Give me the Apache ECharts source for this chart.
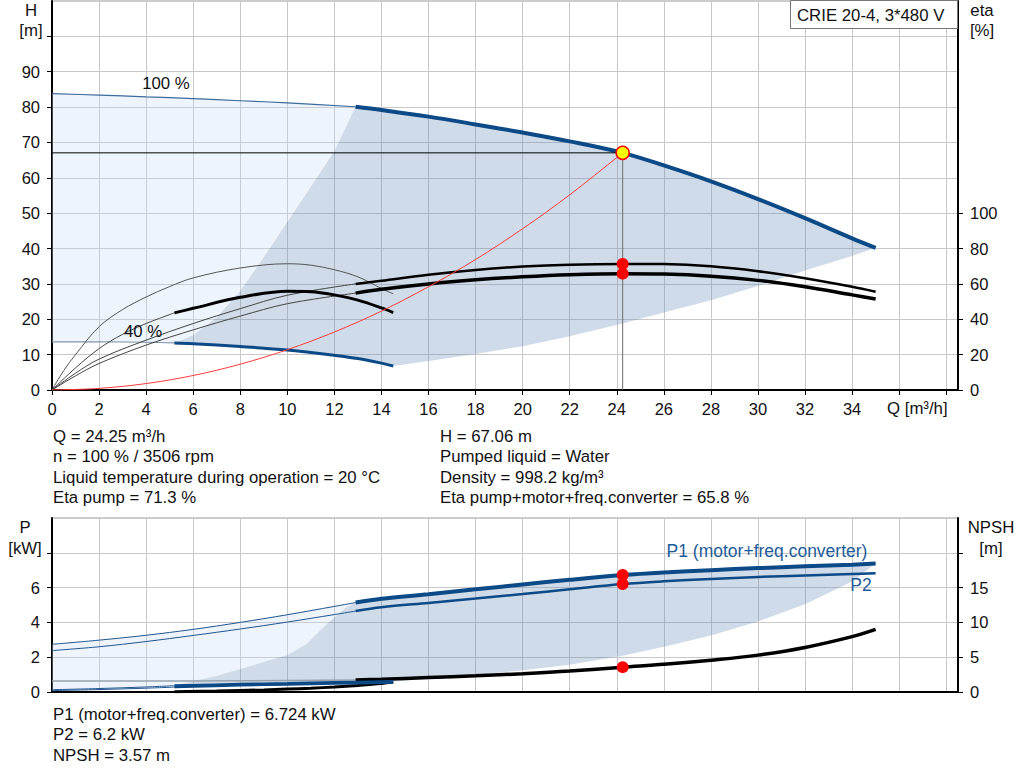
<!DOCTYPE html>
<html><head><meta charset="utf-8">
<script src="https://cdn.jsdelivr.net/npm/echarts@6/dist/echarts.min.js"></script>
<style>html,body{margin:0;padding:0;background:#fff}#c{width:1024px;height:781px}</style>
</head><body><div id="c"></div>
<script>
const FONT = '"Liberation Sans", Arial, sans-serif';

// ---- axis ticks / labels ----
const qTicks = [0,2,4,6,8,10,12,14,16,18,20,22,24,26,28,30,32,34,36,38];
const qLabels = [0,2,4,6,8,10,12,14,16,18,20,22,24,26,28,30,32,34];
const hTicks = [0,10,20,30,40,50,60,70,80,90,100];
const hLabels = [0,10,20,30,40,50,60,70,80,90];
const etaTicks = [0,20,40,60,80,100];
const pTicks = [0,2,4,6,8];
const pLabels = [0,2,4,6];
const npshTicks = [0,5,10,15,20];
const npshLabels = [0,5,10,15];

// ---- duty point ----
const dutyQ = 24.25, dutyH = 67.06;
const etaDots = [[24.25,71.3],[24.25,65.8]];
const powerDots = [[24.25,6.724],[24.25,6.2]];
const npshDots = [[24.25,3.57]];
const qBreak = 12.9, q40a = 5.2;

// ---- head curves (Q m3/h, H m) ----
const H100 = [[0,83.8],[2,83.4],[4,82.9],[6,82.4],[8,81.8],[10,81.2],[12.9,80.1],[14,79.2],[16,77.3],[18,75.1],[20,72.8],[22,70.3],[24.25,67.06],[26,63.5],[28,59.0],[30,54.0],[32,48.6],[34,42.9],[35,40.2]];
const H40 = [[0,13.6],[2,13.6],[4,13.5],[5.2,13.3],[6,13.1],[8,12.3],[10,11.3],[12,9.8],[13,8.9],[14,7.6],[14.5,6.8]];
const SYS = [[0,0],[2,0.46],[4,1.82],[6,4.1],[8,7.3],[10,11.4],[12,16.4],[14,22.3],[16,29.2],[18,36.9],[20,45.6],[22,55.2],[24.25,67.06]];
const LB_H = [[5.2,13.3],[6,15.5],[7,20.5],[8,28],[9,37.5],[10,47.5],[11,57.5],[12,67.5],[12.9,80.1]];
const LOW_H = [[14.5,6.8],[16,8.2],[18,10.2],[20,12.4],[22,15.2],[24.25,18.8],[26,21.9],[28,25.4],[30,29.4],[32,33.8],[34,37.9],[35,40.2]];

// ---- efficiency curves (Q, eta %) ----
const EP100 = [[0,0],[1,9.5],[2,17.5],[4,28.2],[6,37.6],[8,46],[10,53.6],[12.9,60],[14,61.8],[16,65.2],[18,67.9],[20,69.8],[22,70.9],[24.25,71.3],[26,71.2],[28,70],[30,67.2],[32,63.2],[34,58.4],[35,55.6]];
const ET100 = [[0,0],[1,8],[2,15],[4,25.4],[6,34],[8,41.8],[10,48.8],[12.9,54.8],[14,57],[16,60],[18,62.3],[20,64],[22,65.2],[24.25,65.8],[26,65.6],[28,64.4],[30,62],[32,58.4],[34,53.8],[35,51.5]];
const EP40 = [[0,0],[0.5,11],[1,20],[2,35.8],[3,45.5],[4,52.6],[5,58.5],[6,63.4],[8,69],[10,71.4],[11,70.6],[12,68],[13,64],[14,57.4],[14.5,54.4]];
const ET40 = [[0,0],[1,12.5],[2,23.4],[3,31.5],[4,37.6],[5.2,43.6],[6,46.2],[8,52.4],[10,55.8],[11,55.6],[12,53.8],[13,50.8],[14,46.4],[14.5,43.8]];

// ---- power curves (Q, kW) and NPSH (Q, m) ----
const P1_100 = [[0,2.74],[2,2.98],[4,3.26],[6,3.6],[8,4.0],[10,4.44],[12,4.92],[12.9,5.14],[14,5.36],[16,5.62],[18,5.9],[20,6.18],[22,6.45],[24.25,6.72],[26,6.87],[28,7.0],[30,7.12],[32,7.22],[34,7.32],[35,7.38]];
const P2_100 = [[0,2.38],[2,2.6],[4,2.9],[6,3.25],[8,3.62],[10,4.02],[12,4.45],[12.9,4.65],[14,4.87],[16,5.12],[18,5.37],[20,5.63],[22,5.9],[24.25,6.2],[26,6.36],[28,6.5],[30,6.61],[32,6.7],[34,6.78],[35,6.82]];
const P1_40 = [[0,0.13],[2,0.2],[4,0.29],[5.2,0.36],[8,0.44],[10,0.49],[12,0.54],[14.5,0.6]];
const P2_40 = [[0,0.08],[2,0.14],[4,0.22],[5.2,0.28],[8,0.37],[10,0.42],[12,0.47],[14.5,0.53]];
const NPSH100 = [[0,1.58],[4,1.58],[8,1.6],[12.9,1.72],[14,1.83],[16,2.08],[18,2.32],[20,2.62],[22,3.0],[24.25,3.57],[26,3.98],[28,4.57],[30,5.3],[32,6.4],[34,7.95],[35,9.0]];
const NPSH40 = [[5.2,0.05],[7,0.15],[9,0.3],[10,0.42],[11,0.55],[12,0.72],[13,0.95],[14,1.22],[14.5,1.42]];
const LB_P = [[5.2,0.36],[6,0.63],[7,0.92],[8,1.32],[9,1.72],[10,2.12],[10.8,2.75],[11.75,4.0],[12.5,4.85],[12.9,5.14]];
const LOW_P = [[14.5,0.6],[16,0.76],[18,0.98],[20,1.25],[22,1.57],[24.25,2.08],[26,2.6],[28,3.25],[30,4.05],[32,5.05],[34,6.35],[35,7.38]];

// ---- texts ----
const titleBox = 'CRIE 20-4, 3*480 V';
const infoLeft = ['Q = 24.25 m³/h','n = 100 % / 3506 rpm','Liquid temperature during operation = 20 °C','Eta pump = 71.3 %'];
const infoRight = ['H = 67.06 m','Pumped liquid = Water','Density = 998.2 kg/m³','Eta pump+motor+freq.converter = 65.8 %'];
const infoBottom = ['P1 (motor+freq.converter) = 6.724 kW','P2 = 6.2 kW','NPSH = 3.57 m'];

const upto = (a,q) => a.filter(p => p[0] <= q);
const from = (a,q) => a.filter(p => p[0] >= q);
const rev = a => a.slice().reverse();

const BLUE = '#0b4a87';
const DARK = 'rgba(100,140,180,0.31)';
const LIGHT = 'rgba(198,222,245,0.32)';
const TS = 16.8;

function poly(points, xi, yi, fill) {
  return { type:'custom', xAxisIndex:xi, yAxisIndex:yi, silent:true, z:1, clip:true,
    data:[[0,0]],
    renderItem:(params, api) => ({ type:'polygon', shape:{ points: points.map(p => api.coord(p)) }, style:{ fill } }) };
}
function ln(data, xi, yi, color, width, z, straight) {
  return { type:'line', xAxisIndex:xi, yAxisIndex:yi, data, symbol:'none', showSymbol:false,
    smooth: straight ? false : 0.35, silent:true, z: z || 3, lineStyle:{ color, width } };
}
function dots(data, xi, yi, size, color, border) {
  return { type:'scatter', xAxisIndex:xi, yAxisIndex:yi, data, symbolSize:size, silent:true, z:10,
    itemStyle:{ color, borderColor: border || color, borderWidth: border ? 1.5 : 0, opacity:1 } };
}

const topDark = [].concat(LB_H, from(H100,qBreak), rev(LOW_H), rev(from(H40,q40a)));
const topLight = [].concat(upto(H100,qBreak), rev(LB_H), rev(upto(H40,q40a)));
const botDark = [].concat(LB_P, from(P1_100,qBreak), rev(LOW_P), rev(from(P1_40,q40a)));
const botLight = [].concat(upto(P1_100,qBreak), rev(LB_P), rev(upto(P1_40,q40a)));

const lbl = { fontSize:16.5, color:'#111', fontFamily:FONT };
const axLine = { show:true, onZero:false, lineStyle:{ color:'#000', width:2 } };
const split = { show:true, lineStyle:{ color:'#c8c8c8', width:1 } };

function txt(x, y, text, opts) {
  opts = opts || {};
  return { type:'text', x, y, z:101, silent:true,
    style:{ text, fontSize: opts.size || TS, fontFamily:FONT, fill: opts.color || '#111',
      align: opts.align || 'left', verticalAlign:'middle' } };
}

const graphics = [
  { type:'rect', z:100, silent:true, shape:{ x:790.5, y:0.5, width:167, height:28 }, style:{ fill:'#fff', stroke:'#777', lineWidth:1 } },
  txt(797, 15, titleBox),
  txt(31, 10, 'H', {align:'center'}), txt(31, 30, '[m]', {align:'center'}),
  txt(982, 10, 'eta', {align:'center'}), txt(982, 30, '[%]', {align:'center'}),
  txt(887, 408, 'Q [m³/h]'),
  txt(166, 83, '100 %', {align:'center'}), txt(143, 331, '40 %', {align:'center'}),
  txt(25, 527, 'P', {align:'center'}), txt(25, 548, '[kW]', {align:'center'}),
  txt(991, 527, 'NPSH', {align:'center'}), txt(991, 548, '[m]', {align:'center'}),
  txt(767, 551, 'P1 (motor+freq.converter)', {align:'center', color:'#1e5c9a', size:17.5}),
  txt(861, 585, 'P2', {align:'center', color:'#1e5c9a', size:17.5})
];
infoLeft.forEach((t,i) => graphics.push(txt(53, 436 + i*20.5, t)));
infoRight.forEach((t,i) => graphics.push(txt(440, 436 + i*20.5, t)));
infoBottom.forEach((t,i) => graphics.push(txt(53, 714 + i*20.5, t)));

const chart = echarts.init(document.getElementById('c'), null, { renderer:'svg' });
chart.setOption({
  animation:false,
  backgroundColor:'#fff',
  grid:[
    { left:52, top:1, width:906, height:389, show:true, borderColor:'#9a9a9a', borderWidth:1 },
    { left:52, top:518, width:906, height:174, show:true, borderColor:'#9a9a9a', borderWidth:1 }
  ],
  xAxis:[
    { gridIndex:0, type:'value', min:0, max:38.5, interval:2, axisLine:axLine,
      axisTick:{ show:true, customValues:qTicks, length:5, lineStyle:{color:'#000'} },
      axisLabel:Object.assign({ customValues:qLabels, margin:10 }, lbl), splitLine:split },
    { gridIndex:1, type:'value', min:0, max:38.5, interval:2, axisLine:axLine,
      axisTick:{ show:false }, axisLabel:{ show:false }, splitLine:split }
  ],
  yAxis:[
    { gridIndex:0, type:'value', min:0, max:110, interval:10, position:'left', axisLine:axLine,
      axisTick:{ show:true, customValues:hTicks, length:5, lineStyle:{color:'#000'} },
      axisLabel:Object.assign({ customValues:hLabels, margin:12 }, lbl), splitLine:split },
    { gridIndex:0, type:'value', min:0, max:220, interval:20, position:'right', axisLine:axLine,
      axisTick:{ show:true, customValues:etaTicks, length:5, lineStyle:{color:'#000'} },
      axisLabel:Object.assign({ customValues:etaTicks, margin:12 }, lbl), splitLine:{show:false} },
    { gridIndex:1, type:'value', min:0, max:10, interval:2, position:'left', axisLine:axLine,
      axisTick:{ show:true, customValues:pTicks, length:5, lineStyle:{color:'#000'} },
      axisLabel:Object.assign({ customValues:pLabels, margin:12 }, lbl), splitLine:split },
    { gridIndex:1, type:'value', min:0, max:25, interval:5, position:'right', axisLine:axLine,
      axisTick:{ show:true, customValues:npshTicks, length:5, lineStyle:{color:'#000'} },
      axisLabel:Object.assign({ customValues:npshLabels, margin:12 }, lbl), splitLine:{show:false} }
  ],
  graphic: graphics,
  series:[
    poly(topLight, 0, 0, LIGHT),
    poly(topDark, 0, 0, DARK),
    ln(SYS, 0, 0, '#ff3b3b', 1, 4),
    ln(upto(H100,qBreak), 0, 0, '#3b6a9c', 1.2),
    ln(from(H100,qBreak), 0, 0, BLUE, 4),
    ln(upto(H40,q40a), 0, 0, '#8194ad', 1.2),
    ln(from(H40,q40a), 0, 0, BLUE, 3),
    ln(EP40, 0, 1, '#555', 1),
    ln(upto(EP100,qBreak), 0, 1, '#444', 1),
    ln(from(EP100,qBreak), 0, 1, '#000', 2.5),
    ln(upto(ET100,qBreak), 0, 1, '#444', 1),
    ln(from(ET100,qBreak), 0, 1, '#000', 3.5),
    ln(upto(ET40,q40a), 0, 1, '#444', 1),
    ln(from(ET40,q40a), 0, 1, '#000', 3),
    ln([[0,dutyH],[dutyQ,dutyH]], 0, 0, '#000', 1, 5, true),
    ln([[dutyQ,dutyH],[dutyQ,0]], 0, 0, '#6e6e6e', 1, 5, true),
    dots(etaDots, 0, 1, 12, '#ff0000'),
    dots([[dutyQ,dutyH]], 0, 0, 13, '#ffff00', '#ff0000'),

    poly(botLight, 1, 2, LIGHT),
    poly(botDark, 1, 2, DARK),
    ln(upto(NPSH100,qBreak), 1, 3, '#97a2ad', 1.5),
    ln(from(NPSH100,qBreak), 1, 3, '#000', 3.5),
    ln(NPSH40, 1, 3, '#000', 3),
    ln(upto(P2_40,q40a), 1, 2, '#1f5590', 1),
    ln(from(P2_40,q40a), 1, 2, BLUE, 2),
    ln(upto(P1_40,q40a), 1, 2, '#1f5590', 1),
    ln(from(P1_40,q40a), 1, 2, BLUE, 3),
    ln(upto(P2_100,qBreak), 1, 2, '#1f5590', 1),
    ln(from(P2_100,qBreak), 1, 2, BLUE, 2.5),
    ln(upto(P1_100,qBreak), 1, 2, '#1f5590', 1),
    ln(from(P1_100,qBreak), 1, 2, BLUE, 4),
    dots(powerDots, 1, 2, 12, '#ff0000'),
    dots(npshDots, 1, 3, 12, '#ff0000')
  ]
});
</script></body></html>
